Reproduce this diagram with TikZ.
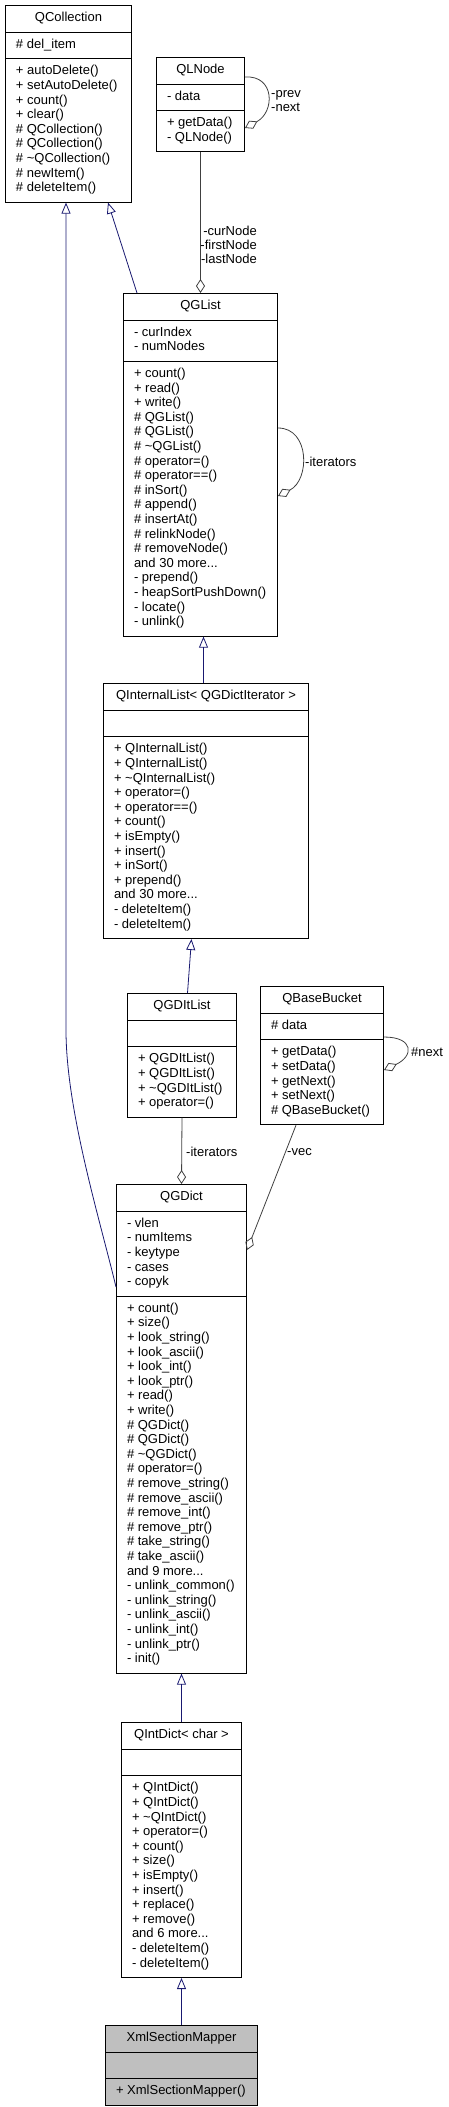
\documentclass[tikz,border=0pt]{standalone}
\usepackage{fontspec}
\setmainfont{Liberation Sans}
\usetikzlibrary{arrows.meta,shapes.multipart}
\definecolor{edgeblue}{HTML}{191970}
\definecolor{edgegray}{HTML}{404040}
\definecolor{mainfill}{HTML}{BFBFBF}

\begin{document}
\begin{tikzpicture}[
        x=1pt, y=-1pt,
        cls/.style={draw, line width=1pt, fill=white, anchor=north west, rectangle split, rectangle split parts=3,
            rectangle split part align={center,left,left}, align=left, inner xsep=10.5pt, inner ysep=5.5pt,
            font=\fontsize{13}{14.6}\selectfont},
        inh/.style={draw=edgeblue, line width=0.8pt, -{Triangle[open, length=11pt, width=9pt]}},
        agg/.style={draw=edgegray, line width=0.8pt, {Diamond[open, length=14pt, width=9pt]}-},
        lbl/.style={inner sep=0pt, font=\fontsize{13}{14}\selectfont}
    ]
    \useasboundingbox (0,0) rectangle (449,2107);

    \node[cls, minimum width=126pt] (qcol) at (5,5) {\strut QCollection
        \nodepart{two}\strut\# del\_item
        \nodepart{three}\strut+ autoDelete()\\+ setAutoDelete()\\+ count()\\+ clear()\\\# QCollection()\\\# QCollection()\\\# \textasciitilde QCollection()\\\# newItem()\\\# deleteItem()\strut};
    \node[cls, minimum width=88pt] (qln) at (156,57) {\strut QLNode
        \nodepart{two}\strut- data
        \nodepart{three}\strut+ getData()\\- QLNode()\strut};
    \node[cls, minimum width=154pt] (qgl) at (123,293) {\strut QGList
        \nodepart{two}\strut- curIndex\\- numNodes\strut
        \nodepart{three}\strut+ count()\\+ read()\\+ write()\\\# QGList()\\\# QGList()\\\# \textasciitilde QGList()\\\# operator=()\\\# operator==()\\\# inSort()\\\# append()\\\# insertAt()\\\# relinkNode()\\\# removeNode()\\and 30 more...\\- prepend()\\- heapSortPushDown()\\- locate()\\- unlink()\strut};
    \node[cls, minimum width=205pt] (qil) at (103,683) {\strut QInternalList< QGDictIterator >
        \nodepart{two}\strut
        \nodepart{three}\strut+ QInternalList()\\+ QInternalList()\\+ \textasciitilde QInternalList()\\+ operator=()\\+ operator==()\\+ count()\\+ isEmpty()\\+ insert()\\+ inSort()\\+ prepend()\\and 30 more...\\- deleteItem()\\- deleteItem()\strut};
    \node[cls, minimum width=109pt] (qgdil) at (127,993) {\strut QGDItList
        \nodepart{two}\strut
        \nodepart{three}\strut+ QGDItList()\\+ QGDItList()\\+ \textasciitilde QGDItList()\\+ operator=()\strut};
    \node[cls, minimum width=123pt] (qbb) at (260,986) {\strut QBaseBucket
        \nodepart{two}\strut\# data
        \nodepart{three}\strut+ getData()\\+ setData()\\+ getNext()\\+ setNext()\\\# QBaseBucket()\strut};
    \node[cls, minimum width=130pt] (qgd) at (116,1184) {\strut QGDict
        \nodepart{two}\strut- vlen\\- numItems\\- keytype\\- cases\\- copyk\strut
        \nodepart{three}\strut+ count()\\+ size()\\+ look\_string()\\+ look\_ascii()\\+ look\_int()\\+ look\_ptr()\\+ read()\\+ write()\\\# QGDict()\\\# QGDict()\\\# \textasciitilde QGDict()\\\# operator=()\\\# remove\_string()\\\# remove\_ascii()\\\# remove\_int()\\\# remove\_ptr()\\\# take\_string()\\\# take\_ascii()\\and 9 more...\\- unlink\_common()\\- unlink\_string()\\- unlink\_ascii()\\- unlink\_int()\\- unlink\_ptr()\\- init()\strut};
    \node[cls, minimum width=120pt] (qid) at (121,1722) {\strut QIntDict< char >
        \nodepart{two}\strut
        \nodepart{three}\strut+ QIntDict()\\+ QIntDict()\\+ \textasciitilde QIntDict()\\+ operator=()\\+ count()\\+ size()\\+ isEmpty()\\+ insert()\\+ replace()\\+ remove()\\and 6 more...\\- deleteItem()\\- deleteItem()\strut};
    \node[cls, minimum width=152pt, fill=mainfill] (xsm) at (105,2025) {\strut XmlSectionMapper
        \nodepart{two}\strut
        \nodepart{three}\strut+ XmlSectionMapper()};

    \draw[inh] ([xshift=14]qgl.north west) -- ([xshift=-24]qcol.south east);
    \draw[inh] ([yshift=-103]qgd.north west) .. controls (100,1220) and (66,1110) .. (66,1030) -- ([xshift=61]qcol.south west);
    \draw[inh] ([xshift=-2.5]qil.north) -- ([xshift=3]qgl.south);
    \draw[inh] ([xshift=5.5]qgdil.north) -- ([xshift=-14.5]qil.south);
    \draw[inh] (qid.north) -- (qgd.south);
    \draw[inh] (xsm.north) -- (qid.south);

    \draw[agg] (qgl.north) -- (qln.south);
    \draw[agg] (qgd.north) -- (qgdil.south);
    \draw[agg] ([yshift=-66]qgd.north east) -- ([xshift=36]qbb.south west);
    \draw[agg] ([yshift=-71]qln.north east) .. controls (275,112) and (275,75) .. ([yshift=-20]qln.north east);
    \draw[agg] ([yshift=-203]qgl.north east) .. controls (310,480) and (310,428) .. ([yshift=-135]qgl.north east);
    \draw[agg] ([yshift=-84]qbb.north east) .. controls (414,1056) and (414,1037) .. ([yshift=-51]qbb.north east);

    \node[lbl, anchor=east, align=right] (lblnodes) at (257,245) {-curNode\\-firstNode\\-lastNode};
    \node[lbl, anchor=west, align=left] (lblprev) at (271,101) {-prev\\-next};
    \node[lbl, anchor=west] (lbliter) at (305,462) {-iterators};
    \node[lbl, anchor=west] (lbldict) at (186,1152) {-iterators};
    \node[lbl, anchor=west] (lblvec) at (287,1152) {-vec};
    \node[lbl, anchor=west] (lblnext) at (411,1052) {\#next};
\end{tikzpicture}
\end{document}
